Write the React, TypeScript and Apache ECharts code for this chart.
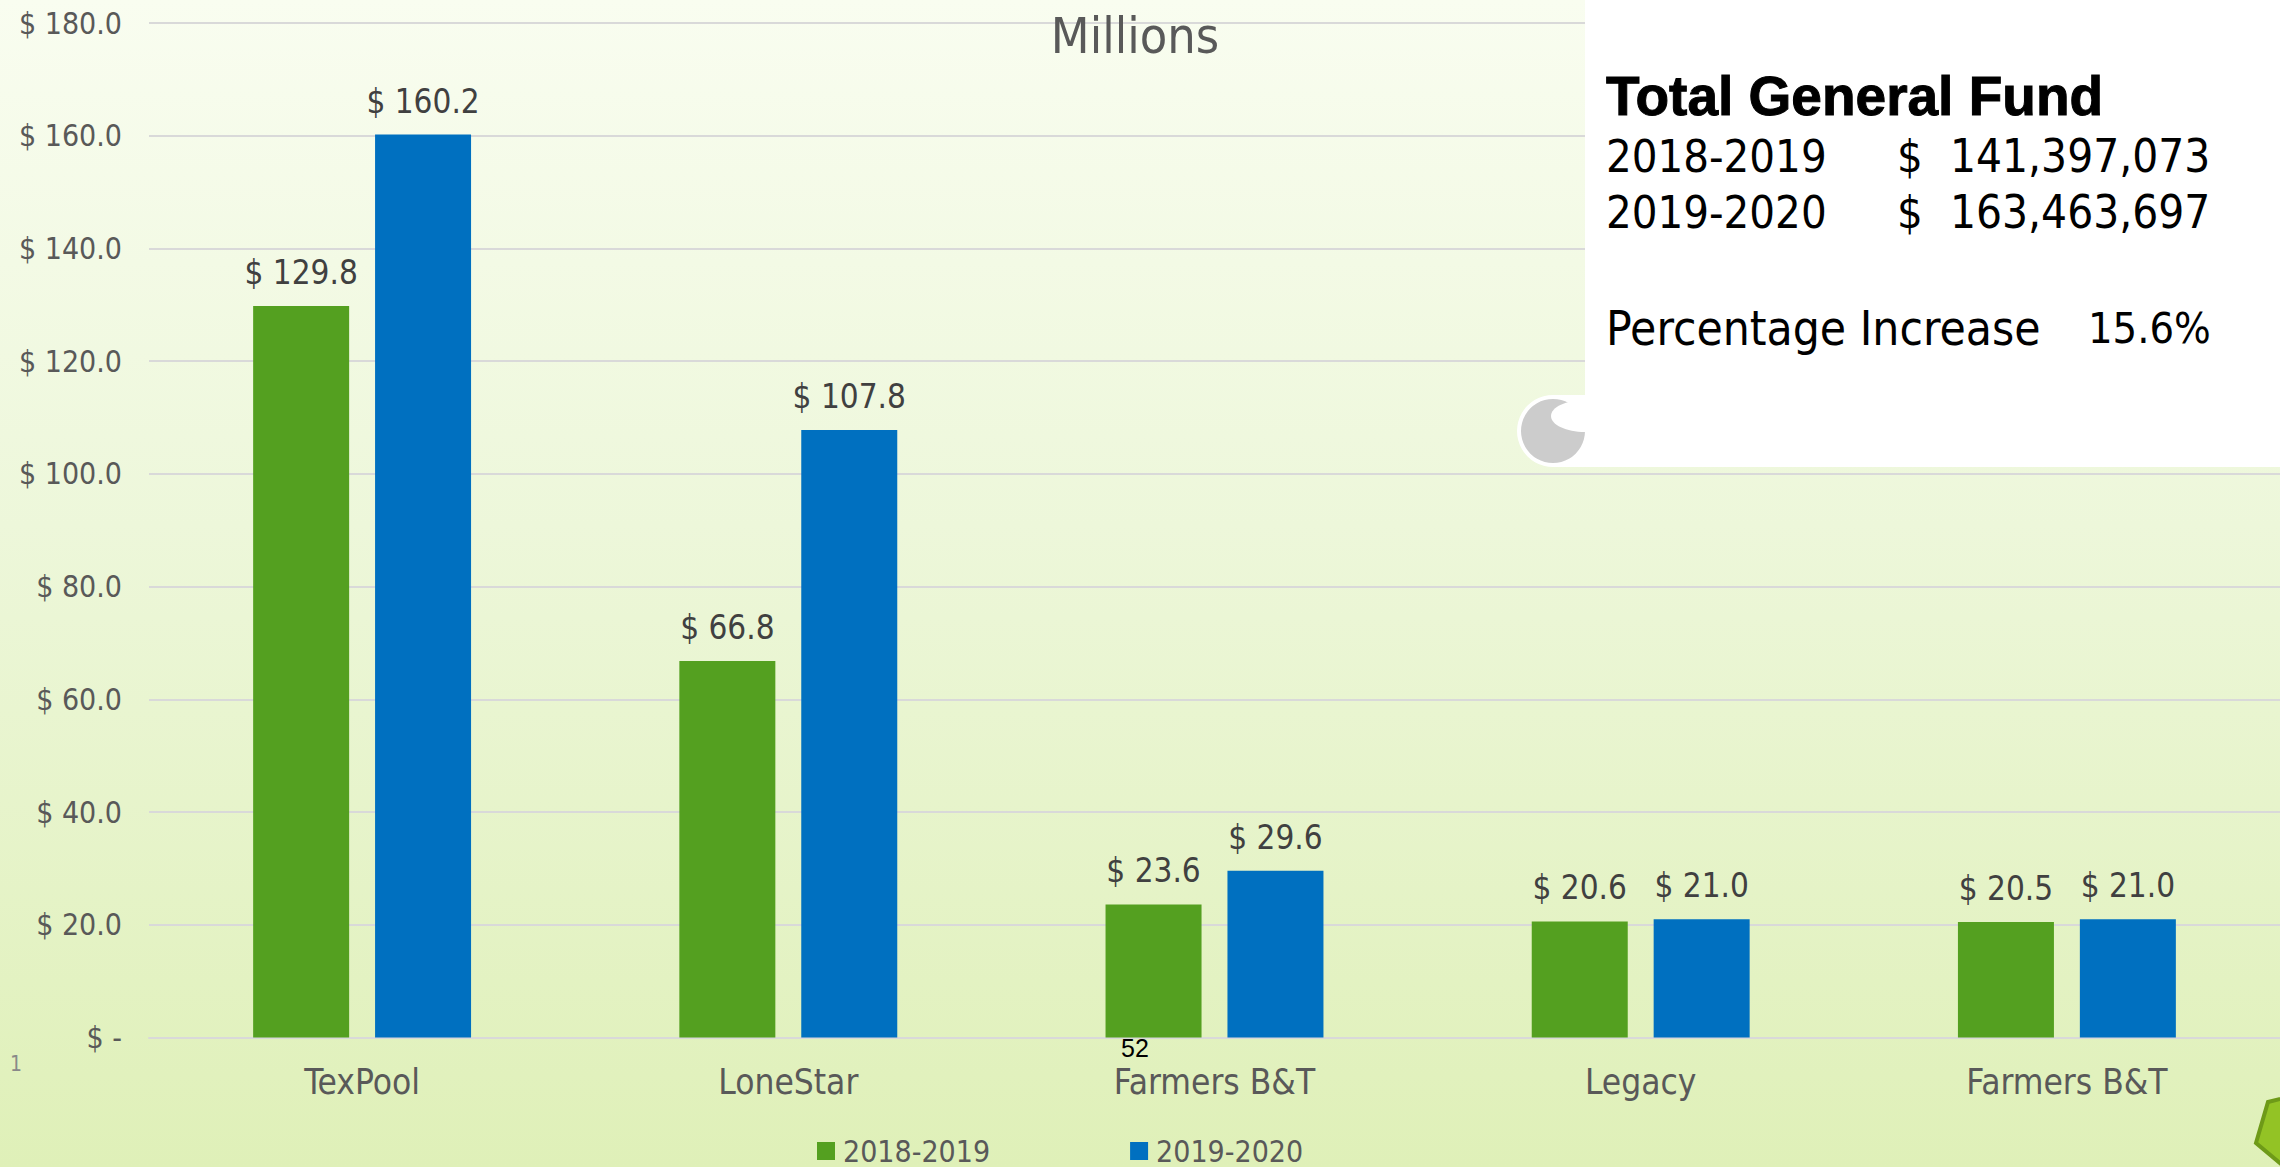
import React, { useEffect, useRef } from "react";
import * as echarts from "echarts";

const categories = ["TexPool", "LoneStar", "Farmers B&T", "Legacy", "Farmers B&T"];
const values2018 = [129.8, 66.8, 23.6, 20.6, 20.5];
const values2019 = [160.2, 107.8, 29.6, 21.0, 21.0];
const seriesNames = ["2018-2019", "2019-2020"];
const FONT = '"DejaVu Sans Condensed", "DejaVu Sans", sans-serif';
const money = (v: number) => (v === 0 ? "$ -" : "$ " + v.toFixed(1));

export default function App() {
  const ref = useRef<HTMLDivElement>(null);
  useEffect(() => {
    document.body.style.margin = "0";
    const chart = echarts.init(ref.current!, null, { renderer: "svg" });
    const txt = (text: string, x: number, y: number, font: string, fill = "#000", extra: any = {}) => ({
      type: "text",
      z: 30,
      x,
      y,
      style: { text, font, fill, verticalAlign: "middle", ...extra },
    });
    const series = (name: string, data: number[], color: string) => ({
      name,
      type: "bar",
      data,
      barWidth: 96,
      barGap: "27%",
      itemStyle: { color },
      label: {
        show: true,
        position: "top",
        distance: 17,
        formatter: (p: any) => money(p.value),
        color: "#404040",
        fontSize: 33,
        fontFamily: FONT,
      },
    });
    chart.setOption({
      animation: false,
      backgroundColor: {
        type: "linear",
        x: 0,
        y: 0,
        x2: 0,
        y2: 1,
        colorStops: [
          { offset: 0, color: "#f9fdf0" },
          { offset: 0.45, color: "#edf7da" },
          { offset: 1, color: "#dff0b8" },
        ],
      },
      grid: { left: 149, top: 23, width: 2137, height: 1014.5, containLabel: false },
      title: {
        text: "Millions",
        left: 1130,
        top: 31,
        textAlign: "center",
        textVerticalAlign: "middle",
        textStyle: { color: "#595959", fontSize: 50, fontWeight: "normal", fontFamily: FONT },
      },
      legend: {
        left: 812,
        top: 1131,
        itemWidth: 18,
        itemHeight: 18,
        itemGap: 140,
        icon: "rect",
        textStyle: { color: "#595959", fontSize: 30, fontFamily: FONT, padding: [0, 0, 0, 3] },
        data: seriesNames,
      },
      xAxis: {
        type: "category",
        data: categories,
        axisTick: { show: false },
        axisLine: { lineStyle: { color: "#d9d9d9", width: 2 } },
        axisLabel: { color: "#595959", fontSize: 35, fontFamily: FONT, margin: 27 },
      },
      yAxis: {
        type: "value",
        min: 0,
        max: 180,
        interval: 20,
        axisLine: { show: false },
        axisTick: { show: false },
        splitLine: { lineStyle: { color: "#d9d9d9", width: 2 } },
        axisLabel: { color: "#595959", fontSize: 30, fontFamily: FONT, margin: 27, formatter: money },
      },
      series: [series(seriesNames[0], values2018, "#54a020"), series(seriesNames[1], values2019, "#0070c0")],
      graphic: [
        { type: "rect", z: 20, shape: { x: 1585, y: 0, width: 700, height: 467 }, style: { fill: "#fff" } },
        { type: "circle", z: 21, shape: { cx: 1553, cy: 431, r: 36 }, style: { fill: "#fff" } },
        { type: "rect", z: 21, shape: { x: 1553, y: 395, width: 40, height: 72 }, style: { fill: "#fff" } },
        { type: "circle", z: 22, shape: { cx: 1553, cy: 431, r: 32 }, style: { fill: "#cccccc" } },
        { type: "rect", z: 23, shape: { x: 1585, y: 395, width: 20, height: 72 }, style: { fill: "#fff" } },
        { type: "ellipse", z: 23, shape: { cx: 1585, cy: 416, rx: 34, ry: 16 }, style: { fill: "#fff" } },
        txt("Total General Fund", 1606, 96, 'bold 55px "Liberation Sans", Arial, sans-serif', "#000", { stroke: "#000", lineWidth: 1 }),
        txt("2018-2019", 1606, 156, `45px ${FONT}`),
        txt("$", 1897, 156, `45px ${FONT}`),
        txt("141,397,073", 1950, 156, `45.5px ${FONT}`),
        txt("2019-2020", 1606, 212, `45px ${FONT}`),
        txt("$", 1897, 212, `45px ${FONT}`),
        txt("163,463,697", 1950, 212, `45.5px ${FONT}`),
        txt("Percentage Increase", 1606, 328, `47.5px ${FONT}`),
        txt("15.6%", 2088, 328, `43px ${FONT}`),
        txt("52", 1135, 1048, '25px "Liberation Sans", Arial, sans-serif', "#000", { align: "center" }),
        txt("1", 10, 1064, `21px ${FONT}`, "#898989"),
        {
          type: "polygon",
          z: 25,
          shape: { points: [[2268, 1102], [2300, 1094], [2300, 1180], [2256, 1143]] },
          style: { fill: "#93c325", stroke: "#6e9a18", lineWidth: 4 },
        },
      ],
    });
    return () => chart.dispose();
  }, []);
  return <div ref={ref} style={{ width: 2280, height: 1167 }} />;
}
